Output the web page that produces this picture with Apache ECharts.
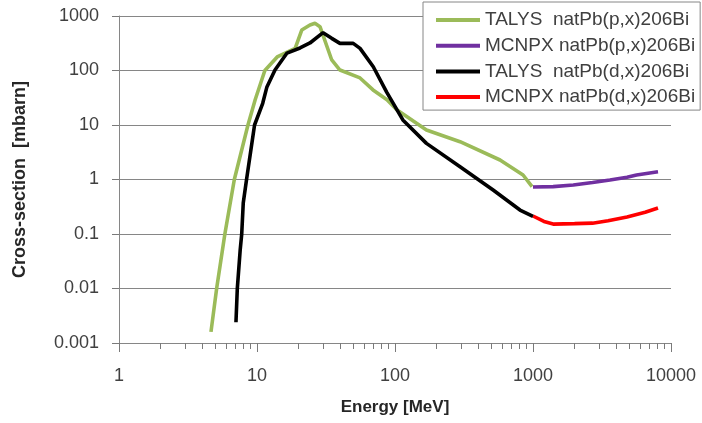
<!DOCTYPE html>
<html>
<head>
<meta charset="utf-8">
<script src="https://cdn.jsdelivr.net/npm/echarts@6/dist/echarts.min.js"></script>
<style>
  html, body { margin: 0; padding: 0; background: #fff; }
  #chart { width: 702px; height: 423px; }
</style>
</head>
<body>
<div id="chart"></div>
<script>
// Excitation functions for 206Bi production on natural lead: [energy MeV, cross-section mbarn]
const talysP = [
  [4.64, 0.0016], [5.1, 0.01], [5.85, 0.1], [6.85, 1], [8.6, 10], [9.7, 29],
  [11.4, 100], [14, 177], [18.9, 255], [21.1, 553], [24.2, 684], [26.3, 734],
  [28.6, 637], [34.8, 156], [39.9, 102], [55.8, 73], [69.3, 44], [87.5, 29],
  [103, 19], [169, 8.1], [296, 4.94], [577, 2.28], [847, 1.21], [984, 0.74]
];
const mcnpxP = [
  [1000, 0.73], [1400, 0.74], [1960, 0.79], [2700, 0.88], [3610, 0.98],
  [4800, 1.1], [5630, 1.21], [8050, 1.39]
];
const talysD = [
  [7.04, 0.0024], [7.2, 0.01], [7.55, 0.05], [7.75, 0.1], [7.95, 0.37], [8.4, 1],
  [9.6, 10], [11.0, 25], [11.8, 50], [13.5, 102], [16.5, 209], [20.5, 259],
  [24.2, 320], [30.1, 494], [34.8, 389], [39.9, 315], [49.8, 315], [55.8, 255],
  [69.6, 117], [87, 40], [114, 12.4], [169, 4.6], [296, 1.72], [514, 0.64],
  [805, 0.275], [1000, 0.21]
];
const mcnpxD = [
  [1000, 0.214], [1200, 0.17], [1400, 0.152], [2000, 0.155], [2700, 0.158],
  [3500, 0.175], [4800, 0.205], [6500, 0.25], [8050, 0.3]
];

const seriesNames = [
  'TALYS  natPb(p,x)206Bi',
  'MCNPX natPb(p,x)206Bi',
  'TALYS  natPb(d,x)206Bi',
  'MCNPX natPb(d,x)206Bi'
];
const seriesColors = ['#9bbb59', '#7030a0', '#000000', '#ff0000'];

const xTickLabels = ['1', '10', '100', '1000', '10000'];
const yTickLabels = ['0.001', '0.01', '0.1', '1', '10', '100', '1000'];

// Minor ticks at 2..9 of every decade, placed on a companion axis in log10 units
const minorTickValues = [];
for (let d = 0; d < 4; d++) {
  for (let k = 2; k <= 9; k++) minorTickValues.push(d + Math.log10(k));
}

const axisGray = '#868686';
const tickGray = '#7a7a7a';
const textColor = '#404040';
const fontFamily = '"Liberation Sans", Arial, sans-serif';

const chart = echarts.init(document.getElementById('chart'), null, { renderer: 'canvas' });

const lineSeries = [talysP, mcnpxP, talysD, mcnpxD].map((data, i) => ({
  name: seriesNames[i],
  type: 'line',
  data: data,
  xAxisIndex: 0,
  yAxisIndex: 0,
  showSymbol: false,
  smooth: false,
  lineStyle: { color: seriesColors[i], width: 3.6 },
  itemStyle: { color: seriesColors[i] },
  z: i === 2 ? 3 : 2
}));

chart.setOption({
  animation: false,
  backgroundColor: '#ffffff',
  grid: { left: 119, right: 31, top: 16, bottom: 80, containLabel: false },
  legend: {
    orient: 'vertical',
    left: 423,
    top: 2,
    padding: [8, 5, 3, 13],
    itemWidth: 44,
    itemHeight: 4,
    itemGap: 5.7,
    icon: 'rect',
    backgroundColor: '#ffffff',
    borderColor: axisGray,
    borderWidth: 1,
    borderRadius: 0,
    data: seriesNames,
    textStyle: { fontFamily: fontFamily, fontSize: 19, lineHeight: 20, color: textColor }
  },
  xAxis: [
    {
      type: 'log',
      logBase: 10,
      min: 1,
      max: 10000,
      name: 'Energy [MeV]',
      nameLocation: 'middle',
      nameGap: 56,
      nameTextStyle: { fontFamily: fontFamily, fontSize: 17, fontWeight: 'bold', color: '#262626' },
      axisLine: { show: true, lineStyle: { color: axisGray, width: 1 } },
      axisTick: { show: true, length: 9, lineStyle: { color: tickGray, width: 1 } },
      axisLabel: {
        margin: 24,
        fontFamily: fontFamily,
        fontSize: 18,
        color: textColor,
        formatter: v => xTickLabels[Math.round(Math.log10(v))]
      },
      splitLine: { show: false }
    },
    {
      type: 'value',
      min: 0,
      max: 4,
      position: 'bottom',
      axisLine: { show: false },
      axisTick: { show: true, length: 6, lineStyle: { color: tickGray, width: 1 }, customValues: minorTickValues },
      axisLabel: { show: false },
      splitLine: { show: false }
    }
  ],
  yAxis: {
    type: 'log',
    logBase: 10,
    min: 0.001,
    max: 1000,
    name: 'Cross-section  [mbarn]',
    nameLocation: 'middle',
    nameGap: 90,
    nameTextStyle: { fontFamily: fontFamily, fontSize: 18, fontWeight: 'bold', color: '#262626' },
    axisLine: { show: true, lineStyle: { color: axisGray, width: 1 } },
    axisTick: { show: true, length: 7, lineStyle: { color: tickGray, width: 1 } },
    axisLabel: {
      margin: 20,
      fontFamily: fontFamily,
      fontSize: 18,
      color: textColor,
      formatter: v => yTickLabels[Math.round(Math.log10(v)) + 3]
    },
    splitLine: { show: true, lineStyle: { color: axisGray, width: 1 } }
  },
  series: lineSeries
});
</script>
</body>
</html>
